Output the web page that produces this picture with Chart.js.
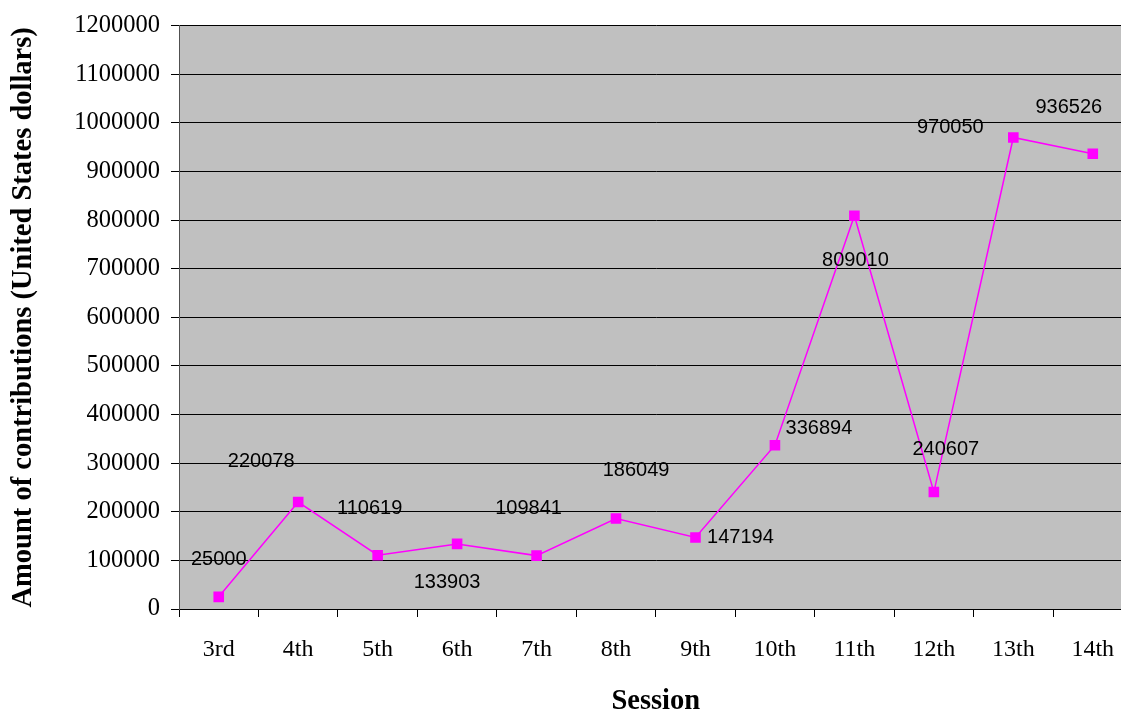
<!DOCTYPE html>
<html>
<head>
<meta charset="utf-8">
<script src="https://cdn.jsdelivr.net/npm/chart.js@4/dist/chart.umd.min.js"></script>
<style>
  html, body { margin: 0; padding: 0; background: #ffffff; overflow: hidden; }
  #clip { width: 1121px; height: 715px; overflow: hidden; }
  #chart { display: block; width: 1140px; height: 715px; }
</style>
</head>
<body>
<div id="clip"><canvas id="chart" width="1140" height="715"></canvas></div>
<script>
// ===== DATA =====
const sessions = ["3rd", "4th", "5th", "6th", "7th", "8th", "9th", "10th", "11th", "12th", "13th", "14th"];
const contributions = [25000, 220078, 110619, 133903, 109841, 186049, 147194, 336894, 809010, 240607, 970050, 936526];
const yTicks = [0, 100000, 200000, 300000, 400000, 500000, 600000, 700000, 800000, 900000, 1000000, 1100000, 1200000];

// where each value label sits relative to its point (px)
const labelOffsets = [
  [0, -37], [-37, -41], [-8, -47], [-10, 39], [-8, -47], [20, -48],
  [45, 0], [44, -17], [1, 45], [12, -43], [-63, -10], [-24, -46]
];

/* =========================
   PLUGINS
========================= */
const plotBackground = {
  id: "plotBackground",
  beforeDraw(chart) {
    const { ctx, chartArea } = chart;
    ctx.save();
    ctx.fillStyle = "#C0C0C0";
    ctx.fillRect(chartArea.left, chartArea.top, chartArea.right - chartArea.left, chartArea.bottom - chartArea.top);
    ctx.restore();
  }
};

const valueLabels = {
  id: "valueLabels",
  afterDatasetsDraw(chart) {
    const { ctx } = chart;
    const meta = chart.getDatasetMeta(0);
    ctx.save();
    ctx.font = "20px 'Liberation Sans', Arial, sans-serif";
    ctx.fillStyle = "#000000";
    ctx.textAlign = "center";
    ctx.textBaseline = "middle";
    meta.data.forEach((pt, i) => {
      const [dx, dy] = labelOffsets[i];
      ctx.fillText(String(contributions[i]), pt.x + dx, pt.y + dy);
    });
    ctx.restore();
  }
};

/* =========================
   CHART
========================= */
const serif = "'Liberation Serif', 'Times New Roman', serif";

new Chart(document.getElementById("chart"), {
  type: "line",
  data: {
    labels: sessions,
    datasets: [
      {
        data: contributions,
        borderColor: "#FF00FF",
        borderWidth: 1.5,
        backgroundColor: "#FF00FF",
        pointStyle: "rect",
        pointRadius: 7.5,
        pointBorderWidth: 0,
        tension: 0
      }
    ]
  },
  options: {
    responsive: false,
    devicePixelRatio: 1,
    animation: false,
    layout: { padding: { left: 0, right: 0, top: 22, bottom: 0 } },
    plugins: {
      legend: { display: false },
      tooltip: { enabled: false }
    },
    scales: {
      x: {
        offset: true,
        afterFit(scale) { scale.height = 106; },
        grid: {
          offset: true,
          drawOnChartArea: false,
          drawTicks: true,
          tickLength: 8,
          color: "#000000",
          lineWidth: 1
        },
        border: { color: "#000000", width: 1 },
        ticks: {
          color: "#000000",
          font: { family: serif, size: 24 },
          padding: 18,
          maxRotation: 0
        },
        title: {
          display: true,
          text: "Session",
          color: "#000000",
          font: { family: serif, size: 28.5, weight: "bold", lineHeight: 1 },
          padding: { top: 0, bottom: -1 }
        }
      },
      y: {
        min: 0,
        max: 1200000,
        afterFit(scale) { scale.width = 179; },
        afterBuildTicks(scale) { scale.ticks = yTicks.map(v => ({ value: v })); },
        grid: {
          color: "#000000",
          lineWidth: 1,
          drawTicks: true,
          tickLength: 8
        },
        border: { color: "#505050", width: 1 },
        ticks: {
          color: "#000000",
          font: { family: serif, size: 24.5 },
          padding: 11,
          callback: v => String(v)
        },
        title: {
          display: true,
          text: "Amount of contributions (United States dollars)",
          color: "#000000",
          font: { family: serif, size: 28.5, weight: "bold", lineHeight: 1 },
          padding: { top: 9, bottom: 0 }
        }
      }
    }
  },
  plugins: [plotBackground, valueLabels]
});
</script>
</body>
</html>
